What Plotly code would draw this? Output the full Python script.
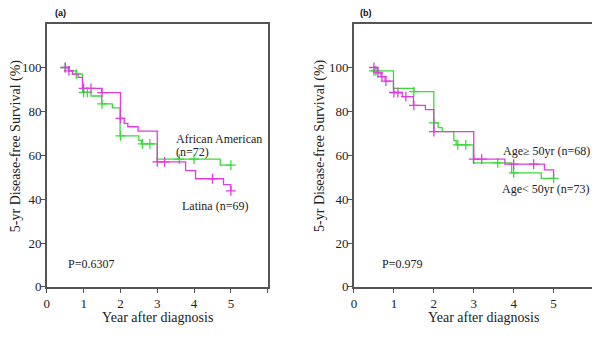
import plotly.graph_objects as go

# ---------------- data ----------------
# Panel (a): ethnicity
a_aa_times = [0.5, 0.6, 0.8, 0.97, 1.2, 1.49, 1.78, 1.99, 2.5, 2.57, 3.0, 4.71, 5.0]
a_aa_surv = [100, 98.5, 97, 88.7, 87, 83.4, 81.6, 68.8, 66.8, 65.2, 58.2, 55.5, 55.5]
a_aa_cens = [0.5, 0.8, 1.0, 1.1, 1.5, 2.0, 2.6, 2.8, 3.6, 4.0, 5.0]

a_lat_times = [0.5, 0.6, 0.7, 0.85, 0.97, 1.49, 2.0, 2.1, 2.2, 2.48, 3.0, 3.77, 4.04, 4.8, 5.0]
a_lat_surv = [100, 98.5, 97, 95.5, 90.5, 88.5, 76.8, 74.5, 73, 71, 57, 53, 49.3, 46.6, 43.8]
a_lat_cens = [0.5, 0.6, 1.0, 1.2, 1.5, 2.0, 3.0, 3.2, 4.5, 5.0]

# Panel (b): age
b_young_times = [0.5, 0.99, 1.5, 2.0, 2.11, 2.21, 2.5, 2.56, 2.99, 3.95, 4.69, 5.0]
b_young_surv = [98.5, 90.5, 89, 74.8, 72.6, 70.8, 66.7, 64.7, 56.5, 52, 49.5, 49.5]
b_young_cens = [0.5, 0.55, 1.5, 2.0, 2.6, 2.8, 3.6, 4.0, 5.0]

b_old_times = [0.5, 0.59, 0.68, 0.78, 0.99, 1.21, 1.49, 1.79, 2.0, 3.0, 3.78, 4.77, 5.0]
b_old_surv = [100, 97.5, 95.8, 93.8, 88.6, 86.7, 82.7, 80.8, 70.8, 58.2, 56, 53.3, 49.8]
b_old_cens = [0.5, 0.6, 0.7, 0.8, 1.0, 1.1, 1.3, 1.5, 2.0, 3.0, 3.2, 4.0, 4.5]

x_ticks = [0, 1, 2, 3, 4, 5, 6]
x_ticktext = ["0", "1", "2", "3", "4", "5", ""]
y_ticks = [0, 20, 40, 60, 80, 100]

GREEN = "#3ada3a"
MAGENTA = "#e03ce0"
SERIF = "Liberation Serif"

# page body has an 8px margin on every side: figure is sized/offset to compensate
OFF = 8
W, H = 600 - OFF, 339 - 2 * OFF


def px(x):
    return (x - OFF) / W


def py(y):
    return 1 - (y - OFF) / H


def step_value(times, surv, t):
    v = surv[0]
    for ti, si in zip(times, surv):
        if ti <= t + 1e-9:
            v = si
    return v


fig = go.Figure()


def add_curve(times, surv, cens, color, xa, ya):
    fig.add_trace(go.Scatter(x=times, y=surv, mode="lines", line=dict(color=color, width=1.3, shape="hv"),
                             xaxis=xa, yaxis=ya, showlegend=False, hoverinfo="skip"))
    fig.add_trace(go.Scatter(x=cens, y=[step_value(times, surv, c) for c in cens], mode="markers",
                             marker=dict(symbol="cross-thin", size=7, line=dict(color=color, width=1.3)),
                             xaxis=xa, yaxis=ya, showlegend=False, hoverinfo="skip"))


add_curve(a_aa_times, a_aa_surv, a_aa_cens, GREEN, "x", "y")
add_curve(a_lat_times, a_lat_surv, a_lat_cens, MAGENTA, "x", "y")
add_curve(b_young_times, b_young_surv, b_young_cens, GREEN, "x2", "y2")
add_curve(b_old_times, b_old_surv, b_old_cens, MAGENTA, "x2", "y2")

ydom = [py(294), py(24)]
tickf = dict(family=SERIF, size=13, color="#222")
xcommon = dict(range=[0, 6], tickvals=x_ticks, ticktext=x_ticktext, showgrid=False, zeroline=False,
               showline=True, mirror=True, linecolor="#555", linewidth=1.5, ticks="outside", ticklen=4,
               tickcolor="#555", tickfont=tickf)
ycommon = dict(range=[0, 120], tickvals=y_ticks, showgrid=False, zeroline=False,
               showline=True, mirror=True, linecolor="#555", linewidth=1.5, ticks="outside", ticklen=4,
               tickcolor="#555", tickfont=tickf, ticklabelstandoff=-3)

fig.update_layout(
    width=W, height=H, margin=dict(l=0, r=0, t=0, b=0),
    paper_bgcolor="white", plot_bgcolor="white",
    font=dict(family=SERIF),
    xaxis=dict(domain=[px(44), px(266)], anchor="y", **xcommon),
    yaxis=dict(domain=ydom, anchor="x", **ycommon),
    xaxis2=dict(domain=[px(352.7), px(593.5)], anchor="y2", **xcommon),
    yaxis2=dict(domain=ydom, anchor="x2", **ycommon),
)

tfont = dict(family=SERIF, size=12, color="#222")
bfont = dict(family="Liberation Sans", size=9, color="#111")
afont = dict(family=SERIF, size=14, color="#222")


def note(text, x, y, font, xanchor="left", angle=0):
    return dict(text=text, x=px(x), y=py(y), xref="paper", yref="paper", xanchor=xanchor,
                yanchor="middle", textangle=angle, showarrow=False, font=font)


ann = [
    note("<b>(a)</b>", 50, 12.7, bfont),
    note("<b>(b)</b>", 356.7, 12.7, bfont),
    note("5-yr Disease-free Survival (%)", 12.7, 149, afont, "center", -90),
    note("5-yr Disease-free Survival (%)", 318, 149, afont, "center", -90),
    note("Year after diagnosis", 155, 325, afont, "center"),
    note("Year after diagnosis", 483, 325, afont, "center"),
    note("African American", 172, 142, tfont),
    note("(n=72)", 172, 156, tfont),
    note("Latina (n=69)", 178, 210.7, tfont),
    note("P=0.6307", 63, 270.7, tfont),
    note("Age\u2265 50yr (n=68)", 500, 155, tfont),
    note("Age< 50yr (n=73)", 499, 193.3, tfont),
    note("P=0.979", 379, 270.7, tfont),
]
fig.update_layout(annotations=ann)

fig.write_html("out.html")
